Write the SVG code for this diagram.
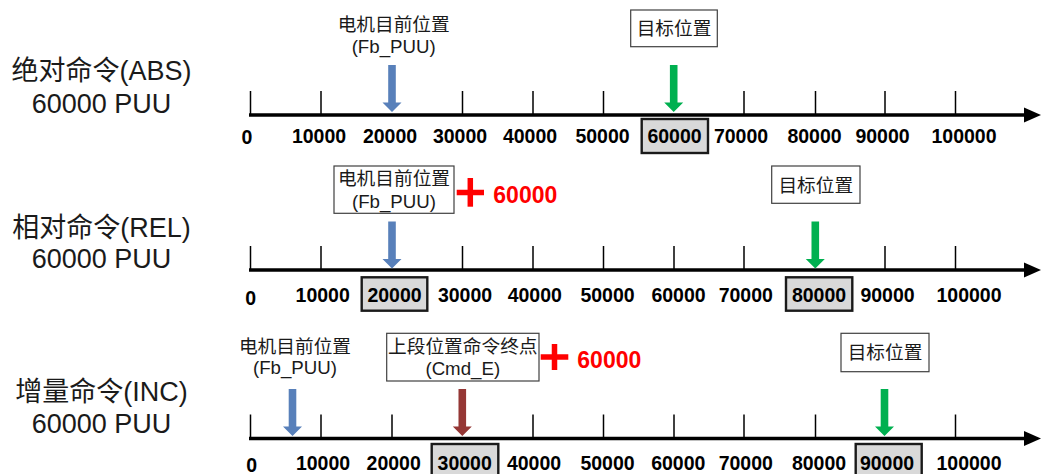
<svg xmlns="http://www.w3.org/2000/svg" width="1041" height="474" viewBox="0 0 1041 474">
<style>
.title{font-family:"Liberation Sans","Noto Sans CJK SC",sans-serif;font-size:27px;fill:#1a1a1a;text-anchor:middle}
.lbl{font-family:"Liberation Sans","Noto Sans CJK SC",sans-serif;font-size:18.7px;fill:#1a1a1a;text-anchor:middle}
.num{font-family:"Liberation Sans",sans-serif;font-size:19.5px;font-weight:bold;fill:#000;text-anchor:middle}
.red{font-family:"Liberation Sans",sans-serif;font-size:23px;font-weight:bold;fill:#ff0000}
.axis{stroke:#000;stroke-width:3.6;fill:none}
.tick{stroke:#000;stroke-width:1.5}
.hl{fill:#d9d9d9;stroke:#1a1a1a;stroke-width:2.4}
.box{fill:#fff;stroke:#404040;stroke-width:1.2}
.plus{stroke:#ff0000;stroke-width:5.5}
.blue{fill:#5880ba}
.green{fill:#00b050}
.brown{fill:#953735}
</style>
<defs>
<polygon id="axhead" points="0,-7.5 17,0 0,7.5" fill="#000"/>
<path id="tk" d="M0,0V-24" class="tick"/>
<polygon id="darrow" points="-3.8,0 3.8,0 3.8,37.5 9.5,37.5 0,47 -9.5,37.5 -3.8,37.5"/>
</defs>

<g id="connectors">
  <!-- Row 1 axis -->
  <line class="axis" x1="249" y1="115" x2="1026" y2="115"/>
  <use href="#axhead" x="1024" y="115"/>
  <g>
    <use href="#tk" x="250.5" y="115"/><use href="#tk" x="321" y="115"/><use href="#tk" x="462.5" y="115"/>
    <use href="#tk" x="533" y="115"/><use href="#tk" x="603.5" y="115"/><use href="#tk" x="744" y="115"/>
    <use href="#tk" x="815.5" y="115"/><use href="#tk" x="885" y="115"/><use href="#tk" x="955.5" y="115"/>
  </g>
  <!-- Row 2 axis -->
  <line class="axis" x1="249" y1="270" x2="1026" y2="270"/>
  <use href="#axhead" x="1024" y="270"/>
  <g>
    <use href="#tk" x="250.5" y="270"/><use href="#tk" x="321" y="270"/><use href="#tk" x="462.5" y="270"/>
    <use href="#tk" x="533" y="270"/><use href="#tk" x="603.5" y="270"/><use href="#tk" x="674" y="270"/>
    <use href="#tk" x="744" y="270"/><use href="#tk" x="885" y="270"/><use href="#tk" x="955.5" y="270"/>
  </g>
  <!-- Row 3 axis -->
  <line class="axis" x1="249" y1="438.5" x2="1026" y2="438.5"/>
  <use href="#axhead" x="1024" y="438.5"/>
  <g>
    <use href="#tk" x="250.5" y="438.5"/><use href="#tk" x="321" y="438.5"/><use href="#tk" x="392" y="438.5"/>
    <use href="#tk" x="533" y="438.5"/><use href="#tk" x="603.5" y="438.5"/><use href="#tk" x="674" y="438.5"/>
    <use href="#tk" x="744" y="438.5"/><use href="#tk" x="815.5" y="438.5"/><use href="#tk" x="955.5" y="438.5"/>
  </g>
  <!-- Arrows -->
  <use href="#darrow" class="blue" x="392" y="65"/>
  <use href="#darrow" class="green" x="673.7" y="65"/>
  <use href="#darrow" class="blue" x="392" y="221.5"/>
  <use href="#darrow" class="green" x="815.3" y="221.5"/>
  <use href="#darrow" class="blue" x="292.5" y="389"/>
  <use href="#darrow" class="brown" x="462.3" y="389"/>
  <use href="#darrow" class="green" x="884.5" y="389"/>
</g>

<!-- Row 1 -->
<g id="row1-title">
  <text class="title" x="101.5" y="80">绝对命令(ABS)</text>
  <text class="title" x="101.5" y="113">60000 PUU</text>
</g>
<g id="row1-current">
  <text class="lbl" x="393.7" y="31">电机目前位置</text>
  <text class="lbl" x="393.7" y="53">(Fb_PUU)</text>
</g>
<g id="row1-target">
  <rect class="box" x="630.7" y="10" width="86.6" height="36.7"/>
  <text class="lbl" x="674" y="35">目标位置</text>
</g>
<g id="row1-scale">
  <rect class="hl" x="641.7" y="119" width="66.3" height="34"/>
  <text class="num" x="247" y="144">0</text>
  <text class="num" x="319" y="143">10000</text>
  <text class="num" x="390" y="143">20000</text>
  <text class="num" x="460" y="143">30000</text>
  <text class="num" x="530" y="143">40000</text>
  <text class="num" x="602.5" y="143">50000</text>
  <text class="num" x="674.5" y="143">60000</text>
  <text class="num" x="741" y="143">70000</text>
  <text class="num" x="814.5" y="143">80000</text>
  <text class="num" x="882.5" y="143">90000</text>
  <text class="num" x="964" y="143">100000</text>
</g>

<!-- Row 2 -->
<g id="row2-title">
  <text class="title" x="101.5" y="237">相对命令(REL)</text>
  <text class="title" x="101.5" y="268">60000 PUU</text>
</g>
<g id="row2-current">
  <rect class="box" x="334" y="166" width="120" height="47.3"/>
  <text class="lbl" x="394" y="185">电机目前位置</text>
  <text class="lbl" x="394" y="208">(Fb_PUU)</text>
</g>
<g id="row2-plus">
  <line class="plus" x1="456.7" y1="192.5" x2="484" y2="192.5"/>
  <line class="plus" x1="470.3" y1="178" x2="470.3" y2="206.7"/>
  <text class="red" x="493.3" y="203">60000</text>
</g>
<g id="row2-target">
  <rect class="box" x="771.7" y="166" width="88.3" height="37.3"/>
  <text class="lbl" x="815.8" y="192">目标位置</text>
</g>
<g id="row2-scale">
  <rect class="hl" x="361.7" y="277.3" width="65.6" height="33.4"/>
  <rect class="hl" x="786" y="277.3" width="66.3" height="33.4"/>
  <text class="num" x="250.8" y="305">0</text>
  <text class="num" x="322.7" y="302">10000</text>
  <text class="num" x="394.5" y="302">20000</text>
  <text class="num" x="465" y="302">30000</text>
  <text class="num" x="534.8" y="302">40000</text>
  <text class="num" x="607.5" y="302">50000</text>
  <text class="num" x="678.5" y="302">60000</text>
  <text class="num" x="745.8" y="302">70000</text>
  <text class="num" x="819" y="302">80000</text>
  <text class="num" x="887.5" y="302">90000</text>
  <text class="num" x="969" y="302">100000</text>
</g>

<!-- Row 3 -->
<g id="row3-title">
  <text class="title" x="101.5" y="401">增量命令(INC)</text>
  <text class="title" x="101.5" y="433">60000 PUU</text>
</g>
<g id="row3-current">
  <text class="lbl" x="295" y="353">电机目前位置</text>
  <text class="lbl" x="295" y="374">(Fb_PUU)</text>
</g>
<g id="row3-last">
  <rect class="box" x="386.7" y="333.3" width="152.3" height="47.7"/>
  <text class="lbl" x="462.8" y="353.3">上段位置命令终点</text>
  <text class="lbl" x="462.8" y="375">(Cmd_E)</text>
</g>
<g id="row3-plus">
  <line class="plus" x1="540.7" y1="357" x2="568.3" y2="357"/>
  <line class="plus" x1="554.5" y1="344" x2="554.5" y2="370"/>
  <text class="red" x="577.3" y="368">60000</text>
</g>
<g id="row3-target">
  <rect class="box" x="841" y="333.3" width="88" height="38.4"/>
  <text class="lbl" x="885" y="359">目标位置</text>
</g>
<g id="row3-scale">
  <rect class="hl" x="431.7" y="444" width="66.6" height="36"/>
  <rect class="hl" x="855.7" y="444" width="66" height="36"/>
  <text class="num" x="251.7" y="472">0</text>
  <text class="num" x="323" y="470">10000</text>
  <text class="num" x="393.7" y="470">20000</text>
  <text class="num" x="464.7" y="470">30000</text>
  <text class="num" x="534" y="470">40000</text>
  <text class="num" x="607.5" y="470">50000</text>
  <text class="num" x="678.3" y="470">60000</text>
  <text class="num" x="745.8" y="470">70000</text>
  <text class="num" x="819" y="470">80000</text>
  <text class="num" x="887" y="470">90000</text>
  <text class="num" x="969" y="470">100000</text>
</g>
</svg>
